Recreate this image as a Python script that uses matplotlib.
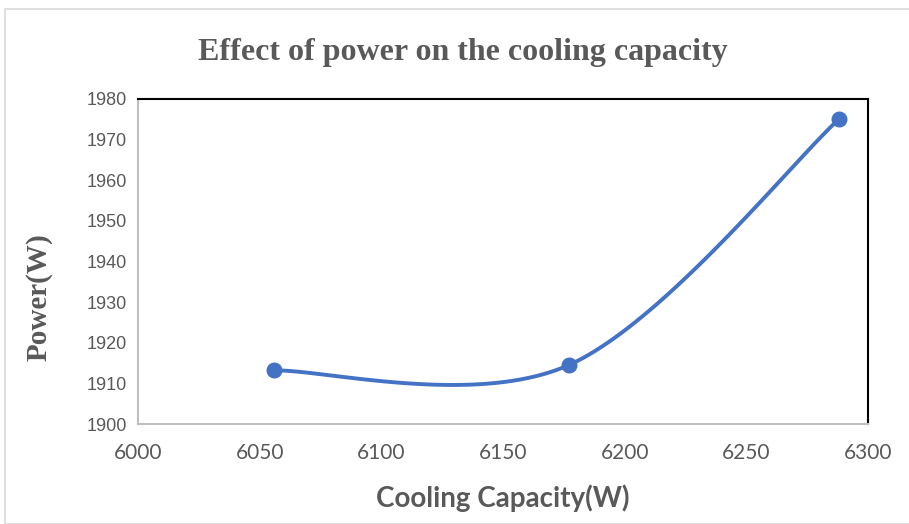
import numpy as np
import matplotlib.pyplot as plt
from matplotlib.patches import Rectangle

# data
cooling = [6056, 6177, 6288]
power = [1913.2, 1914.5, 1975.0]

x_ticks = [6000, 6050, 6100, 6150, 6200, 6250, 6300]
y_ticks = [1900, 1910, 1920, 1930, 1940, 1950, 1960, 1970, 1980]

blue = "#4472C4"
gray = "#595959"

fig = plt.figure(figsize=(9.09, 5.24), dpi=100)
ax = fig.add_axes([0.1518, 0.1908, 0.8031, 0.6203])

ax.set_xlim(6000, 6300)
ax.set_ylim(1900, 1980)


# excel-like smoothed line (catmull-rom as bezier), done in pixel space
def smooth(xs, ys, n=60):
    x0, x1 = ax.get_xlim()
    y0, y1 = ax.get_ylim()
    w, h = 730.0, 325.0
    px = (np.array(xs) - x0) / (x1 - x0) * w
    py = (np.array(ys) - y0) / (y1 - y0) * h
    pts = np.column_stack([px, py])
    out = []
    for i in range(len(pts) - 1):
        p0 = pts[i - 1] if i > 0 else pts[i]
        p1 = pts[i]
        p2 = pts[i + 1]
        p3 = pts[i + 2] if i + 2 < len(pts) else pts[i + 1]
        c1 = p1 + (p2 - p0) / 6
        c2 = p2 - (p3 - p1) / 6
        t = np.linspace(0, 1, n)[:, None]
        seg = ((1 - t) ** 3) * p1 + 3 * ((1 - t) ** 2) * t * c1 + 3 * (1 - t) * t ** 2 * c2 + t ** 3 * p2
        out.append(seg)
    out = np.vstack(out)
    sx = out[:, 0] / w * (x1 - x0) + x0
    sy = out[:, 1] / h * (y1 - y0) + y0
    return sx, sy


sx, sy = smooth(cooling, power)
ax.plot(sx, sy, color=blue, lw=2.8, solid_capstyle="round", zorder=3)
ax.plot(cooling, power, "o", color=blue, ms=10.5, zorder=4)

ax.set_xticks(x_ticks)
ax.set_yticks(y_ticks)
ax.tick_params(length=0)
for lab in ax.get_xticklabels():
    lab.set_fontfamily("Lato")
    lab.set_fontsize(15)
    lab.set_color(gray)
for lab in ax.get_yticklabels():
    lab.set_fontfamily("Liberation Sans")
    lab.set_fontsize(13)
    lab.set_color(gray)
ax.tick_params(axis="x", pad=14)
ax.tick_params(axis="y", pad=8)

ax.spines["top"].set_color("black")
ax.spines["right"].set_color("black")
ax.spines["top"].set_linewidth(1.5)
ax.spines["right"].set_linewidth(1.5)
ax.spines["left"].set_color("#BFBFBF")
ax.spines["bottom"].set_color("#BFBFBF")
ax.spines["left"].set_linewidth(1.5)
ax.spines["bottom"].set_linewidth(1.5)

ax.set_xlabel("Cooling Capacity(W)", fontfamily="Lato", fontweight="bold",
              fontsize=20, color=gray)
ax.xaxis.set_label_coords(0.5, -0.185)
ax.set_ylabel("Power(W)", fontfamily="Liberation Serif", fontweight="bold",
              fontsize=21, color=gray)
ax.yaxis.set_label_coords(-0.117, 0.39)

fig.text(0.509, 0.899, "Effect of power on the cooling capacity",
         ha="center", va="center", fontfamily="Liberation Serif",
         fontweight="bold", fontsize=23, color=gray)

# chart area border
fig.patches.append(Rectangle((5 / 909, 0), 1.0, 1 - 9 / 524, transform=fig.transFigure,
                             fill=False, edgecolor="#D9D9D9", lw=1.2))

fig.savefig("out.png", dpi=100)
